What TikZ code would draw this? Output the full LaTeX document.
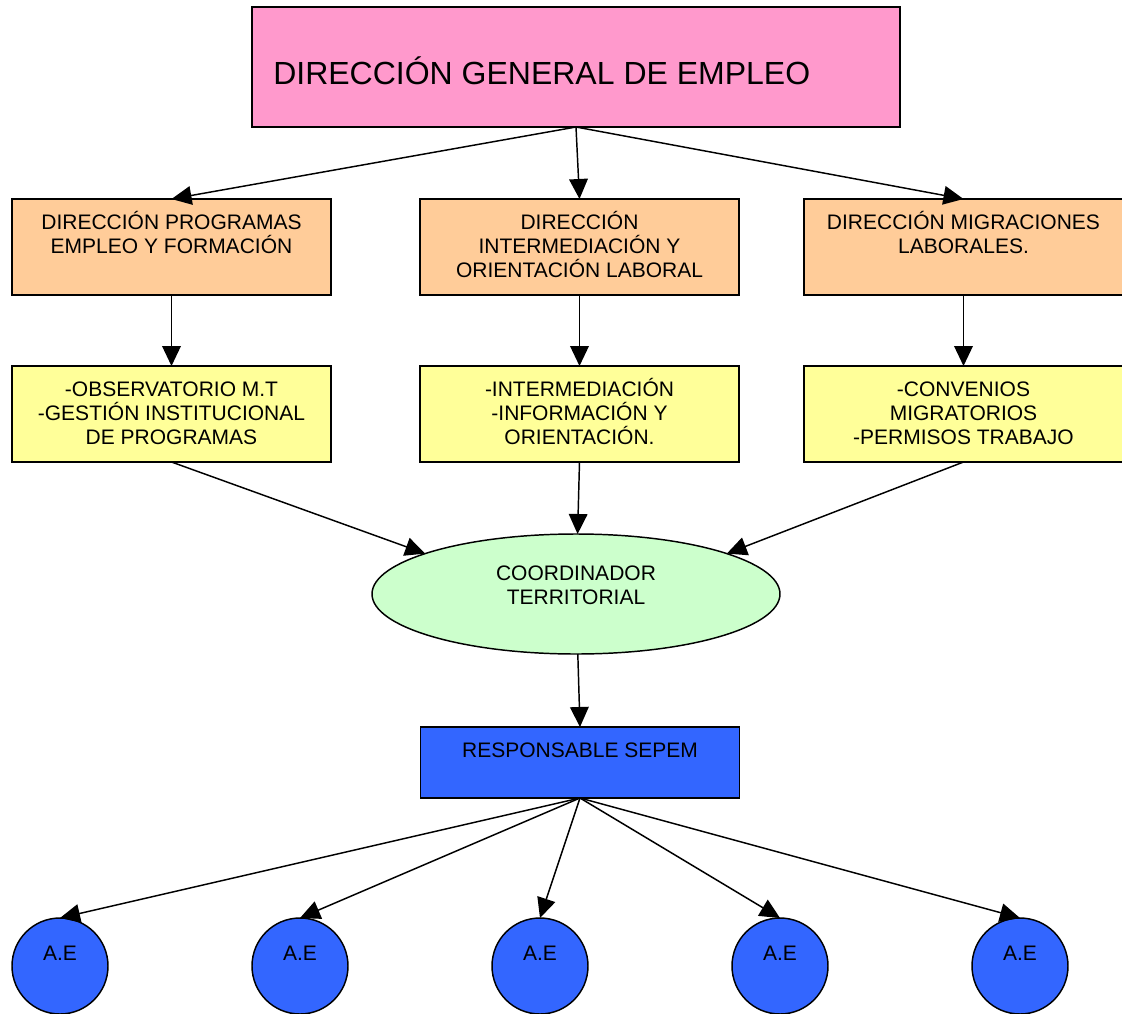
\documentclass[tikz,border=0pt]{standalone}
\usepackage{fontspec}
\setmainfont{Liberation Sans}
\usetikzlibrary{arrows.meta,shapes.geometric}
\begin{document}
\begin{tikzpicture}[x=0.75pt,y=-0.75pt,
  base/.style={draw=black, line width=1.1pt, inner sep=0pt, outer sep=0pt},
  topbox/.style={base, rectangle, fill=pinkc, minimum width=486pt, minimum height=90pt},
  peachbox/.style={base, rectangle, fill=peachc, minimum width=239.25pt, minimum height=72pt},
  yellowbox/.style={base, rectangle, fill=yellowc, minimum width=239.25pt, minimum height=72pt},
  greenell/.style={base, ellipse, fill=greenc, minimum width=306pt, minimum height=90pt},
  bluebox/.style={base, rectangle, fill=bluec, minimum width=239.25pt, minimum height=53.25pt},
  bluecirc/.style={base, circle, fill=bluec, minimum size=72pt},
  lbl/.style={anchor=north, align=center, inner sep=0pt, font=\fontsize{15.75pt}{18pt}\selectfont},
  arr/.style={line width=1.1pt, -{Triangle[length=15pt, width=14pt]}}
]
\definecolor{pinkc}{HTML}{FF99CC}
\definecolor{peachc}{HTML}{FFCC99}
\definecolor{yellowc}{HTML}{FFFF99}
\definecolor{greenc}{HTML}{CCFFCC}
\definecolor{bluec}{HTML}{3366FF}
\useasboundingbox (0,0) rectangle (1122,1014);

% top
\node[topbox, label={[anchor=base west, inner sep=0pt, xshift=15.75pt, yshift=-12.75pt, font=\fontsize{24pt}{28pt}\selectfont]west:DIRECCIÓN GENERAL DE EMPLEO}] (top) at (576,67) {};

% row 2
\node[peachbox, label={[lbl, yshift=-7.5pt]north:{\rule{0pt}{15pt}DIRECCIÓN PROGRAMAS\\EMPLEO Y FORMACIÓN}}] (d1) at (171.5,247) {};
\node[peachbox, label={[lbl, yshift=-7.5pt]north:{\rule{0pt}{15pt}DIRECCIÓN\\INTERMEDIACIÓN Y\\ORIENTACIÓN LABORAL}}] (d2) at (579.5,247) {};
\node[peachbox, label={[lbl, yshift=-7.5pt]north:{\rule{0pt}{15pt}DIRECCIÓN MIGRACIONES\\LABORALES.}}] (d3) at (963.5,247) {};

% row 3
\node[yellowbox, label={[lbl, yshift=-7.5pt]north:{\rule{0pt}{15pt}-OBSERVATORIO M.T\\-GESTIÓN INSTITUCIONAL\\DE PROGRAMAS}}] (f1) at (171.5,414) {};
\node[yellowbox, label={[lbl, yshift=-7.5pt]north:{\rule{0pt}{15pt}-INTERMEDIACIÓN\\-INFORMACIÓN Y\\ORIENTACIÓN.}}] (f2) at (579.5,414) {};
\node[yellowbox, label={[lbl, yshift=-7.5pt]north:{\rule{0pt}{15pt}-CONVENIOS\\MIGRATORIOS\\-PERMISOS TRABAJO}}] (f3) at (963.5,414) {};

% coordinator
\node[greenell, label={[lbl, yshift=-19.5pt]north:{\rule{0pt}{15pt}COORDINADOR\\TERRITORIAL}}] (coord) at (576,594) {};

% responsible
\node[bluebox, label={[lbl, yshift=-7.5pt]north:{\rule{0pt}{15pt}RESPONSABLE SEPEM}}] (resp) at (580,762.5) {};

% agencies
\foreach \i/\cx in {1/60,2/300,3/540,4/780,5/1020}{
  \node[bluecirc, label={[lbl, yshift=-16.9pt]north:{\rule{0pt}{15pt}A.E}}] (ae\i) at (\cx,966) {};
}

% connectors
\draw[arr] (top.south) -- (d1.north);
\draw[arr] (top.south) -- (d2.north);
\draw[arr] (top.south) -- (d3.north);
\draw[arr] (d1.south) -- (f1.north);
\draw[arr] (d2.south) -- (f2.north);
\draw[arr] (d3.south) -- (f3.north);
\draw[arr] (f1.south) -- (coord.165);
\draw[arr] (f2.south) -- (coord);
\draw[arr] (f3.south) -- (coord.15);
\draw[arr] (coord) -- (resp.north);
\foreach \i in {1,...,5}{
  \draw[arr] (resp.south) -- (ae\i.north);
}
\end{tikzpicture}
\end{document}
